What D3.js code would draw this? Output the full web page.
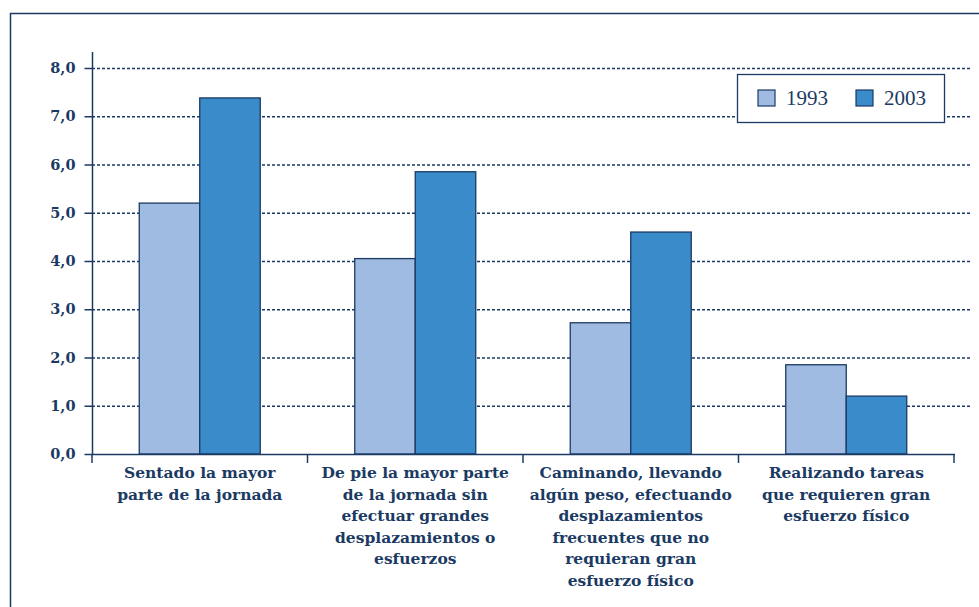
<!DOCTYPE html>
<html><head><meta charset="utf-8">
<script src="https://cdn.jsdelivr.net/npm/d3@7"></script>
<style>body{margin:0;background:#fff}svg{display:block}</style>
</head><body>
<script>
const categories = [
  ["Sentado la mayor","parte de la jornada"],
  ["De pie la mayor parte","de la jornada sin","efectuar grandes","desplazamientos o","esfuerzos"],
  ["Caminando, llevando","algún peso, efectuando","desplazamientos","frecuentes que no","requieran gran","esfuerzo físico"],
  ["Realizando tareas","que requieren gran","esfuerzo físico"]
];
const seriesNames = ["1993","2003"];
const values1993 = [5.2, 4.05, 2.72, 1.85];
const values2003 = [7.38, 5.85, 4.6, 1.2];
const yTicks = [0,1,2,3,4,5,6,7,8];

const W=979,H=607;
const navy="#1b3a63", colors=["#a0bbe1","#3a8bca"];
const boldFont="'DejaVu Serif',serif";
const svg=d3.select("body").append("svg").attr("width",W).attr("height",H);
svg.append("path").attr("d",`M10.5,${H+2}V13.5H${W+2}`).attr("fill","none").attr("stroke",navy).attr("stroke-width",1.5);

const x0=92,x1=954,yTop=68,yBot=454;
const x=d3.scaleBand().domain(d3.range(categories.length)).range([x0,x1]);
const y=d3.scaleLinear().domain([0,8]).range([yBot,yTop]);
const bw=60.5;

// grid
svg.append("g").selectAll("line").data(yTicks.filter(d=>d>0)).join("line")
 .attr("x1",x0).attr("x2",970).attr("y1",d=>y(d)+0.5).attr("y2",d=>y(d)+0.5)
 .attr("stroke",navy).attr("stroke-width",1.3).attr("stroke-dasharray","3,2");

// bars
const data=[values1993,values2003];
categories.forEach((c,i)=>{
  const cx=x(i)+x.bandwidth()/2;
  data.forEach((vals,s)=>{
    svg.append("rect").attr("x",cx-bw+s*bw).attr("y",y(vals[i])).attr("width",bw).attr("height",yBot-y(vals[i]))
      .attr("fill",colors[s]).attr("stroke",navy).attr("stroke-width",1.3);
  });
});

// y axis
const ya=svg.append("g").attr("transform",`translate(${x0+0.5},0)`)
 .call(d3.axisLeft(y).tickValues(yTicks).tickSize(8).tickFormat(d=>d3.format(".1f")(d).replace(".",",")));
ya.select(".domain").attr("d",`M0,52V${yBot}`).attr("stroke",navy).attr("stroke-width",1.5);
ya.selectAll(".tick line").attr("stroke",navy).attr("stroke-width",1.5);
ya.selectAll(".tick text").attr("fill",navy).attr("font-family",boldFont).attr("font-weight","bold").attr("font-size",14.5).attr("x",-17);

// x axis
const xg=svg.append("g");
xg.append("line").attr("x1",x0).attr("x2",x1+1).attr("y1",yBot+0.5).attr("y2",yBot+0.5).attr("stroke",navy).attr("stroke-width",1.5);
xg.selectAll(".xt").data(d3.range(categories.length+1)).join("line")
 .attr("x1",i=>x0+i*x.bandwidth()).attr("x2",i=>x0+i*x.bandwidth()).attr("y1",yBot).attr("y2",yBot+9)
 .attr("stroke",navy).attr("stroke-width",1.5);
categories.forEach((lines,i)=>{
  const t=xg.append("text").attr("x",x(i)+x.bandwidth()/2).attr("y",478).attr("text-anchor","middle")
   .attr("fill",navy).attr("font-family",boldFont).attr("font-weight","bold").attr("font-size",15.5);
  lines.forEach((l,j)=>t.append("tspan").attr("x",x(i)+x.bandwidth()/2).attr("dy",j?21.6:0).text(l));
});

// legend
const lg=svg.append("g");
lg.append("rect").attr("x",737.5).attr("y",74.5).attr("width",207).attr("height",48).attr("fill","#fff").attr("stroke",navy).attr("stroke-width",1.3);
seriesNames.forEach((n,i)=>{
  const lx=758+i*98;
  lg.append("rect").attr("x",lx).attr("y",90).attr("width",17).attr("height",16).attr("fill",colors[i]).attr("stroke",navy).attr("stroke-width",1.2);
  lg.append("text").attr("x",lx+28).attr("y",105).attr("fill",navy).attr("font-family","'Liberation Serif',serif").attr("font-size",21).text(n);
});
</script>
</body></html>
